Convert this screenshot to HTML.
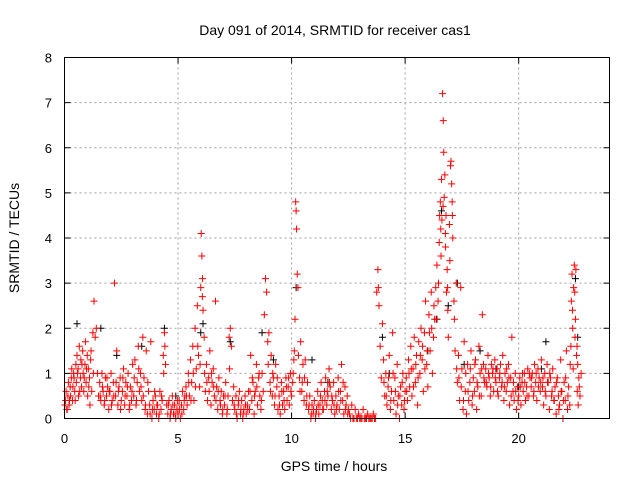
<!DOCTYPE html>
<html><head><meta charset="utf-8"><style>
body{margin:0;background:#fff;}
svg{display:block;font-family:"Liberation Sans",sans-serif;}
</style></head><body>
<svg id="chart" width="640" height="480" viewBox="0 0 640 480">
<text x="335" y="35" font-size="14" text-anchor="middle">Day 091 of 2014, SRMTID for receiver cas1</text>
<text x="334" y="471" font-size="14" text-anchor="middle">GPS time / hours</text>
<text transform="translate(19,238) rotate(-90)" font-size="14" text-anchor="middle">SRMTID / TECUs</text>
<g id="grid"></g><g id="ticks"></g><g id="black"></g><g id="red"></g>
<rect x="64.5" y="57.5" width="545" height="361" fill="none" stroke="#000" stroke-width="1"/>
</svg>
<script>
const xTicks=[0,5,10,15,20];
const yTicks=[0,1,2,3,4,5,6,7,8];
const redT=[0.05,0.1,0.15,0.2,0.25,0.3,0.35,0.4,0.45,0.5,0.52,0.55,0.6,0.62,0.65,0.7,0.72,0.75,0.8,0.82,0.85,0.9,0.92,0.95,1.0,1.02,1.05,1.1,1.12,1.15,1.2,1.25,1.3,1.35,1.4,1.45,1.5,
1.55,1.6,1.65,1.7,1.75,1.8,1.85,1.9,1.95,2.0,2.05,2.1,2.15,2.2,2.25,2.3,2.35,2.4,2.45,2.5,2.55,2.6,2.65,2.7,2.75,2.8,2.85,2.9,2.95,3.0,
3.05,3.1,3.15,3.2,3.25,3.3,3.35,3.4,3.45,3.5,3.55,3.6,3.65,3.7,3.75,3.8,3.85,3.9,3.95,4.0,4.05,4.1,4.15,4.2,4.25,4.3,4.35,4.4,4.42,4.45,4.5,
4.55,4.6,4.65,4.7,4.75,4.8,4.85,4.9,4.95,5.0,5.05,5.1,5.15,5.2,5.25,5.3,
5.35,5.4,5.45,5.5,5.55,5.6,5.65,5.7,5.75,5.8,5.85,5.9,5.95,6.0,6.02,6.05,6.08,6.1,6.15,6.2,6.25,6.3,6.35,6.4,6.45,6.5,6.55,6.6,6.65,6.7,6.75,6.8,6.85,6.9,6.95,7.0,
7.05,7.1,7.15,7.2,7.25,7.3,7.35,7.4,7.45,7.5,7.55,7.6,7.65,7.7,7.75,7.8,7.85,7.9,7.95,8.0,8.05,8.1,8.15,8.2,8.25,8.3,8.35,8.4,8.45,8.5,8.55,8.6,
8.65,8.7,8.75,8.8,8.85,8.9,8.95,9.0,9.05,9.1,9.15,9.2,9.25,9.3,9.35,9.4,9.45,9.5,9.55,9.6,9.65,9.7,9.75,9.8,9.85,9.9,9.95,10.0,10.05,10.1,
10.15,10.18,10.2,10.22,10.25,10.28,10.3,10.35,10.4,10.45,10.5,10.55,10.6,10.65,10.7,
10.75,10.8,10.85,10.9,10.95,11.0,11.05,11.1,11.15,11.2,11.25,11.3,11.35,11.4,11.45,11.5,11.55,11.6,11.65,11.7,11.75,11.8,11.85,11.9,11.95,12.0,12.05,12.1,12.15,12.2,12.25,12.3,12.35,12.4,12.45,12.5,
12.55,12.6,12.65,12.7,12.75,12.8,12.85,12.9,12.95,13.0,13.05,13.1,13.15,13.2,13.25,13.3,13.35,13.4,13.45,13.5,13.55,13.6,13.65,13.7,
13.75,13.8,13.82,13.85,13.9,13.95,14.0,14.05,14.1,14.15,14.2,14.25,14.3,14.35,14.4,14.45,14.5,14.55,14.6,14.65,14.7,14.75,14.8,14.85,14.9,14.95,15.0,
15.05,15.1,15.15,15.2,15.25,15.3,15.35,15.4,15.45,15.5,15.55,15.6,15.65,15.7,15.75,15.8,15.85,15.9,15.95,16.0,16.05,16.1,16.15,16.2,16.25,16.3,
16.35,16.4,16.45,16.5,16.52,16.55,16.58,16.6,16.62,16.65,16.68,16.7,16.72,16.75,16.78,16.8,16.82,16.85,16.88,16.9,16.95,17.0,17.02,17.05,17.08,17.1,17.15,17.2,17.25,17.3,
17.35,17.4,17.45,17.5,17.55,17.6,17.65,17.7,17.75,17.8,17.85,17.9,17.95,18.0,18.05,18.1,18.15,18.2,18.25,18.3,18.35,18.4,18.45,18.5,
18.55,18.6,18.65,18.7,18.75,18.8,18.85,18.9,18.95,19.0,19.05,19.1,19.15,19.2,19.25,19.3,19.35,19.4,19.45,19.5,19.55,19.6,19.65,19.7,19.75,19.8,19.85,19.9,19.95,20.0,20.05,20.1,20.15,20.2,20.25,20.3,20.35,20.4,20.45,20.5,
20.55,20.6,20.65,20.7,20.75,20.8,20.85,20.9,20.95,21.0,21.05,21.1,21.15,21.2,21.25,21.3,21.35,21.4,21.45,21.5,21.55,21.6,21.65,21.7,21.75,21.8,21.85,21.9,21.95,22.0,22.05,22.1,22.15,22.2,22.25,
22.3,22.32,22.35,22.38,22.4,22.42,22.45,22.48,22.5,22.52,22.55,22.58,22.6,22.62,22.65,22.7,22.75];
const redV=[0.4,0.2,0.5,0.3,0.7,0.9,0.4,1.0,0.6,1.2,0.8,1.4,1.1,0.5,1.6,0.9,1.3,0.7,1.5,1.0,0.6,1.2,1.7,0.8,1.4,0.5,1.1,0.9,0.3,1.3,0.6,1.9,2.6,1.8,2.0,1.0,0.5,
0.8,0.4,1.0,0.6,0.3,0.9,0.5,0.7,0.2,0.6,1.0,0.4,0.8,3.0,0.5,1.5,0.3,0.7,0.9,0.4,0.6,1.1,0.3,0.8,0.5,1.0,0.2,0.7,0.4,1.2,
0.5,1.3,0.3,0.8,1.6,0.6,1.0,0.4,1.8,0.9,0.2,1.5,0.1,0.6,0.3,1.7,0.0,0.4,0.2,0.5,0.1,0.3,0.0,0.6,0.2,0.4,1.4,1.9,1.6,1.2,0.3,
0.1,0.4,0.0,0.2,0.5,0.1,0.3,0.0,0.2,0.1,0.4,0.0,0.3,0.6,0.2,0.5,
0.7,0.3,1.0,0.5,1.3,0.8,1.6,0.4,2.0,1.1,2.5,1.4,0.7,2.9,4.1,3.6,3.1,2.4,1.8,0.6,1.2,0.4,0.9,1.5,0.3,0.8,1.1,0.5,2.6,0.7,0.2,0.9,0.4,0.6,0.1,0.5,
0.3,0.8,0.1,0.5,1.8,2.0,1.6,0.4,0.7,0.2,0.5,0.0,0.3,0.6,0.1,0.4,0.0,0.2,0.5,0.1,0.3,0.6,0.2,1.4,0.4,0.8,0.1,0.6,1.2,0.3,0.9,0.5,
0.2,1.0,0.6,2.3,3.1,2.8,1.7,1.9,0.8,1.4,0.5,0.9,0.3,1.2,0.7,0.2,0.5,0.1,0.8,0.3,0.6,0.2,0.9,0.4,0.7,0.3,1.0,0.5,0.8,1.3,
2.2,4.8,4.6,4.2,3.2,2.9,1.4,0.9,1.7,0.6,1.2,0.4,1.3,0.3,0.8,
0.2,0.5,0.0,0.3,0.1,0.4,0.0,0.2,0.6,0.1,0.3,0.8,0.4,0.2,0.6,0.9,0.3,0.5,1.1,0.7,0.2,0.4,0.8,0.1,0.5,0.3,0.9,0.2,0.6,1.2,0.4,0.1,0.7,0.3,0.5,0.2,
0.1,0.0,0.3,0.0,0.0,0.2,0.0,0.0,0.1,0.0,0.0,0.0,0.2,0.0,0.0,0.0,0.1,0.0,0.0,0.0,0.0,0.1,0.0,0.0,
2.8,3.3,2.9,2.5,1.6,0.9,2.1,1.3,0.5,1.0,0.3,0.7,1.4,0.2,0.6,1.9,0.4,0.9,0.1,1.2,0.5,0.0,0.7,0.3,1.0,0.2,0.6,
0.9,0.4,1.3,0.7,1.6,0.5,1.1,1.8,0.8,1.4,0.3,1.7,1.0,2.0,1.3,0.6,1.9,2.6,1.2,0.7,2.3,1.5,2.8,1.0,1.8,2.2,
2.9,3.4,2.6,3.9,4.5,4.8,3.6,5.3,4.4,7.2,6.6,5.9,4.9,5.4,3.8,4.5,2.8,3.3,2.4,1.8,4.3,5.6,5.7,5.2,4.5,4.0,2.6,1.5,3.0,0.8,
1.4,0.4,2.9,1.1,0.2,1.7,0.6,0.1,1.2,0.4,0.8,1.5,0.3,0.9,0.6,1.3,0.2,0.7,1.6,1.0,0.5,2.3,1.2,0.8,
1.1,0.7,1.4,0.9,0.5,1.2,1.0,0.6,1.3,0.8,1.1,0.5,0.9,1.2,0.7,1.4,0.4,1.0,0.6,0.8,1.2,0.3,0.9,1.8,0.6,0.4,1.0,0.2,0.7,0.5,0.9,0.3,0.8,0.6,1.0,0.4,0.7,1.1,0.5,0.9,
0.7,1.0,0.5,1.2,0.8,0.4,1.1,0.9,0.6,1.3,0.7,0.3,1.0,0.5,1.2,0.8,0.2,0.9,0.5,1.1,0.4,0.7,0.1,0.9,0.5,0.3,1.3,0.6,0.0,0.8,0.4,1.5,0.2,0.7,0.3,
1.6,2.6,3.2,2.0,1.1,2.9,3.4,1.8,2.2,3.3,1.4,0.6,1.2,0.3,0.9,0.5,1.0];
const redT2=[0.02,0.07,0.12,0.17,0.22,0.27,0.32,0.37,0.42,0.47,0.57,0.67,0.77,0.87,0.97,1.07,1.17,1.27,1.57,1.67,1.77,1.87,1.97,2.07,2.17,2.27,2.37,2.47,2.57,2.67,2.77,2.87,2.97,3.07,3.17,3.27,3.37,3.47,
3.57,3.67,3.77,3.87,3.97,4.07,4.17,4.27,4.37,4.57,4.67,4.77,4.87,4.97,5.07,5.17,5.27,
5.37,5.47,5.57,5.67,5.77,5.87,5.97,6.07,6.17,6.27,6.37,6.47,6.57,6.67,6.77,6.87,6.97,
7.07,7.17,7.27,7.47,7.57,7.67,7.77,7.87,7.97,8.07,8.17,8.27,8.37,8.47,8.57,8.67,
8.97,9.07,9.17,9.27,9.37,9.47,9.57,9.67,9.77,9.87,9.97,10.07,10.12,
10.37,10.47,10.57,10.67,10.77,10.87,10.97,11.07,11.17,11.27,11.37,11.47,11.57,11.67,11.77,11.87,11.97,12.07,12.17,12.27,12.37,12.47,
14.07,14.17,14.27,14.37,14.47,14.57,14.67,14.77,14.87,14.97,15.07,15.17,15.27,15.37,15.47,15.57,15.67,15.77,15.87,15.97,16.07,16.17,16.27,
16.37,16.47,16.57,16.67,16.77,16.87,16.97,17.07,17.17,17.27,
17.37,17.47,17.57,17.67,17.77,17.87,17.97,18.07,18.17,18.27,18.37,18.47,18.57,18.67,18.77,18.87,18.97,19.07,19.17,19.27,19.37,19.47,19.57,19.67,19.77,19.87,19.97,20.07,20.17,20.27,20.37,20.47,20.57,20.67,20.77,20.87,20.97,21.07,21.17,21.27,21.37,21.47,21.57,21.67,21.77,21.87,21.97,22.07,22.17,22.27,22.37,22.47,22.57,22.67];
const redV2=[0.3,0.6,0.2,0.8,0.4,0.5,1.1,0.7,0.9,0.4,1.0,0.6,1.2,0.9,1.1,0.7,1.5,1.0,0.5,0.7,0.4,0.9,0.6,0.3,0.5,0.8,0.6,0.2,0.9,0.5,0.7,0.3,0.6,0.9,0.4,1.1,0.7,0.5,
0.3,0.8,0.1,0.2,0.6,0.3,0.1,0.5,1.0,0.3,0.1,0.3,0.1,0.4,0.2,0.1,0.4,
0.5,0.8,0.4,1.0,0.7,1.6,1.2,2.7,1.0,0.8,0.6,1.0,0.7,0.4,0.6,0.3,0.2,
0.5,0.2,1.1,0.3,0.1,0.4,0.2,0.1,0.3,0.2,0.6,0.9,0.5,0.7,1.0,0.4,
1.2,0.6,1.0,0.5,0.9,0.3,0.6,0.4,0.7,0.9,0.6,1.0,1.5,
0.6,0.8,0.9,0.5,0.3,0.1,0.2,0.1,0.3,0.5,0.2,0.4,0.6,0.8,0.5,0.3,0.2,0.6,0.4,0.8,0.2,0.1,
0.8,0.5,0.9,0.4,1.0,0.6,0.3,0.5,0.8,0.4,0.6,1.0,1.1,0.7,1.2,0.9,1.4,1.6,1.1,1.5,1.9,2.0,2.5,
2.2,3.0,4.2,4.7,4.1,2.9,3.5,4.8,2.2,1.1,
0.9,0.7,0.4,1.0,0.6,1.1,0.5,1.2,0.8,0.5,1.1,0.9,0.8,1.0,0.7,1.1,0.9,0.6,1.0,0.8,0.7,1.1,0.9,0.5,0.8,0.6,0.4,0.7,1.0,0.8,0.5,1.0,0.9,0.6,1.0,0.7,0.8,0.9,0.6,0.8,1.0,0.6,0.4,0.8,0.2,0.6,0.4,0.9,0.5,1.2,2.4,2.8,1.6,0.7];
const blackT=[0.55,1.6,2.3,3.4,4.4,4.9,6.0,6.1,7.3,8.7,9.2,10.2,10.9,11.6,14.0,14.3,16.0,16.4,16.6,16.9,17.3,17.6,18.3,19.0,20.0,21.0,21.2,22.5,22.6];
const blackV=[2.1,2.0,1.4,1.6,2.0,0.5,1.9,2.1,1.7,1.9,1.3,2.9,1.3,0.8,1.8,1.0,1.5,2.2,4.6,2.5,3.0,1.2,1.5,1.1,0.7,1.1,1.7,3.1,1.8];

const NS='http://www.w3.org/2000/svg';
const X0=64.5,X1=609.5,Y0=418.5,Y1=57.5;
function xs(t){return X0+(t/24)*(X1-X0);}
function ys(v){return Y0-(v/8)*(Y0-Y1);}
function mk(tag,attrs,parent){const e=document.createElementNS(NS,tag);for(const k in attrs)e.setAttribute(k,attrs[k]);parent.appendChild(e);return e;}
const grid=document.getElementById('grid'),ticks=document.getElementById('ticks');
xTicks.forEach(t=>{
  const x=xs(t);
  if(t>0){const g=mk('line',{x1:x,x2:x,y1:Y1,y2:Y0,stroke:'#a0a0a0','stroke-dasharray':'2,3'},grid);
  
  }
  mk('line',{x1:x,x2:x,y1:Y0,y2:Y0-6,stroke:'#000'},ticks);
  mk('line',{x1:x,x2:x,y1:Y1,y2:Y1+6,stroke:'#000'},ticks);
  const l=mk('text',{x:x,y:443,'font-size':13,'text-anchor':'middle'},ticks);l.textContent=t;
  
  
});
yTicks.forEach(v=>{
  const y=ys(v);
  if(v>0&&v<8){const g=mk('line',{x1:X0,x2:X1,y1:y,y2:y,stroke:'#a0a0a0','stroke-dasharray':'2,3'},grid);
  
  }
  mk('line',{x1:X0,x2:X0+6,y1:y,y2:y,stroke:'#000'},ticks);
  mk('line',{x1:X1,x2:X1-6,y1:y,y2:y,stroke:'#000'},ticks);
  const l=mk('text',{x:52,y:y+5,'font-size':13,'text-anchor':'end'},ticks);l.textContent=v;
  
  
});
function plus(g,t,v,color,name){
  const x=xs(t),y=ys(v);
  const p=mk('path',{d:`M${x-3.5},${y}H${x+3.5}M${x},${y-3.5}V${y+3.5}`,stroke:color,'stroke-width':1,fill:'none'},g);
  
  
}
const bg=document.getElementById('black'),rg=document.getElementById('red');
blackT.forEach((t,i)=>plus(bg,t,blackV[i],'#000','black-point'));
redT.forEach((t,i)=>plus(rg,t,redV[i],'#ff0000','red-point'));
redT2.forEach((t,i)=>plus(rg,t,redV2[i],'#ff0000','red-point'));
</script>
</body></html>
